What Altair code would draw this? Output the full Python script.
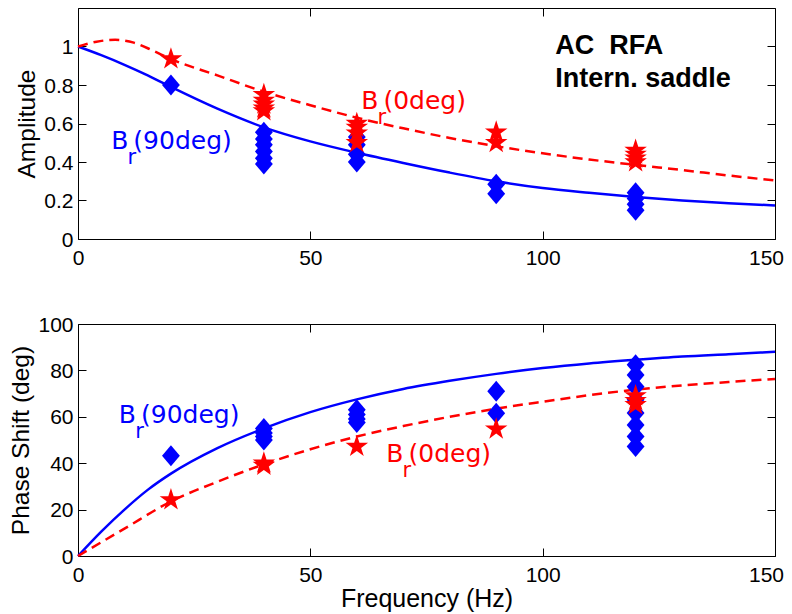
import math
import altair as alt
import pandas as pd

# ---------------- data ----------------
X_TICKS = [0, 50, 100, 150]
AMP_TICKS = [0, 0.2, 0.4, 0.6, 0.8, 1.0]
PH_TICKS = [0, 20, 40, 60, 80, 100]

# Amplitude, fitted curves
amp90_fit_f = [0, 5, 10, 15, 20, 30, 40, 50, 60, 70, 80, 90, 100, 110, 120, 130, 140, 150]
amp90_fit_v = [1.0, 0.955, 0.905, 0.85, 0.79, 0.677, 0.58, 0.507, 0.448, 0.395, 0.345, 0.30,
               0.265, 0.24, 0.218, 0.2, 0.186, 0.174]
amp0_fit_f = [0, 4, 8, 12, 16, 20, 30, 40, 50, 60, 70, 80, 90, 100, 110, 120, 130, 140, 150]
amp0_fit_v = [1.0, 1.025, 1.035, 1.02, 0.98, 0.935, 0.85, 0.765, 0.695, 0.63, 0.575, 0.525,
              0.482, 0.445, 0.413, 0.385, 0.358, 0.33, 0.304]

# Amplitude, measured points
amp90_pts_f = [20, 40, 40, 40, 40, 40, 40, 60, 60, 60, 60, 90, 90, 120, 120, 120, 120]
amp90_pts_v = [0.80, 0.555, 0.52, 0.49, 0.455, 0.42, 0.39, 0.53, 0.49, 0.44, 0.40,
               0.285, 0.235, 0.24, 0.21, 0.18, 0.15]
amp0_pts_f = [20, 40, 40, 40, 40, 40, 60, 60, 60, 60, 90, 90, 120, 120, 120, 120]
amp0_pts_v = [0.935, 0.75, 0.72, 0.70, 0.68, 0.665, 0.60, 0.58, 0.55, 0.50,
              0.555, 0.50, 0.46, 0.44, 0.42, 0.40]

# Phase shift, fitted curves
ph90_fit_f = [0, 5, 10, 15, 20, 30, 40, 50, 60, 70, 80, 90, 100, 110, 120, 130, 140, 150]
ph90_fit_v = [0, 10.5, 20, 28.5, 35.5, 46.5, 55, 62, 67.5, 72, 75.5, 78.5, 81, 83, 84.6, 86, 87, 88]
ph0_fit_f = [0, 10, 20, 30, 40, 50, 60, 70, 80, 90, 100, 110, 120, 130, 140, 150]
ph0_fit_v = [0, 11.8, 23.5, 32, 39.5, 46, 51.5, 56, 60, 63.5, 66.5, 69.3, 71.7, 73.5, 75, 76.3]

# Phase shift, measured points
ph90_pts_f = [20, 40, 40, 40, 40, 60, 60, 60, 60, 90, 90,
              120, 120, 120, 120, 120, 120, 120, 120]
ph90_pts_v = [43.2, 55, 53, 51.5, 50, 63, 61, 59, 57.5, 71, 61.5,
              82.4, 78, 73, 67.3, 61.6, 56.5, 51.5, 47.2]
ph0_pts_f = [20, 40, 40, 60, 90, 120, 120, 120]
ph0_pts_v = [24.2, 40, 39, 47.2, 54.7, 69, 67, 65.2]

# Annotations (text, anchor frequency, anchor value)
LBL_HEAD = "B"
LBL_SUB = "r"
LBL_90 = "(90deg)"
LBL_0 = "(0deg)"
amp_lbl90 = (7.13, 0.468)
amp_lbl0 = (60.96, 0.676)
ph_lbl90 = (8.79, 57.3)
ph_lbl0 = (66.35, 40.7)
info_lines = ["AC\u00a0 RFA", "Intern. saddle"]
info_f = [102.7, 102.7]
info_v = [0.961, 0.791]

# ---------------- styling ----------------
BLUE = "#0000ff"
RED = "#ff0000"
FONT = "Liberation Sans"
LBL_FONT = "DejaVu Sans"
W = 697


def star_path(inner=0.382):
    pts = []
    for k in range(10):
        r = 1.0 if k % 2 == 0 else inner
        a = math.pi / 2 + k * math.pi / 5
        pts.append((r * math.cos(a), -r * math.sin(a)))
    return "M" + "L".join(f"{x:.4f},{y:.4f}" for x, y in pts) + "Z"


STAR = star_path()
DIAMOND = "M0,-1L0.85,0L0,1L-0.85,0Z"


def df(f, v):
    return pd.DataFrame({"f": f, "v": v})


def panel(fit90, fit0, pts90, pts0, lbl90, lbl0, ymax, yticks, yfmt, ytitle, xtitle, height,
          info=False):
    xs = alt.Scale(domain=[0, 150], nice=False, zero=False)
    ys = alt.Scale(domain=[0, ymax], nice=False, zero=False)
    common = dict(tickSize=8, offset=-8, domain=False, grid=False,
                  tickColor="black", tickWidth=1, minExtent=0)
    x_main = alt.Axis(values=X_TICKS, format="d", title=xtitle, labelPadding=8, labelFontSize=21,
                      labelFont=FONT, labelColor="black", labelFlush=False, labelOverlap=False,
                      labelOffset={"condition": {"test": "datum.value === 150", "value": -9},
                                   "value": 0},
                      titleFont=FONT, titleFontSize=25, titleFontWeight="normal",
                      titleColor="black", titlePadding=1, **common)
    y_main = alt.Axis(values=yticks, format=yfmt, title=ytitle, labelPadding=5,
                      labelFontSize=21, labelFont=FONT, labelColor="black", labelOffset=1,
                      labelFlush=False, labelOverlap=False,
                      titleFont=FONT, titleFontSize=24.5, titleFontWeight="normal",
                      titleColor="black", titlePadding=4, **common)
    x_top = alt.Axis(orient="top", values=X_TICKS, labels=False, title=None, maxExtent=0, **common)
    y_right = alt.Axis(orient="right", values=yticks, labels=False, title=None, maxExtent=0,
                       **common)

    def enc(ch, xa=None, ya=None):
        return ch.encode(
            x=alt.X("f:Q", scale=xs, axis=xa),
            y=alt.Y("v:Q", scale=ys, axis=ya),
        )

    blue_line = enc(alt.Chart(df(*fit90)).mark_line(color=BLUE, strokeWidth=2.5,
                                                    interpolate="monotone"), x_main, y_main)
    red_line = enc(alt.Chart(df(*fit0)).mark_line(color=RED, strokeWidth=2.5, strokeDash=[10, 6],
                                                  interpolate="monotone"), x_top, y_right)
    dia = enc(alt.Chart(df(*pts90)).mark_point(shape=DIAMOND, filled=True, size=441,
                                               color=BLUE, opacity=1))
    stars = enc(alt.Chart(df(*pts0)).mark_point(shape=STAR, filled=True, size=560,
                                                color=RED, opacity=1))

    layers = [blue_line, red_line, dia, stars]

    def sub_label(pos, tail, color):
        base = alt.Chart(df([pos[0]], [pos[1]]))
        t1 = enc(base.mark_text(text=LBL_HEAD, align="left", baseline="alphabetic",
                                font=LBL_FONT, fontSize=25, color=color))
        t2 = enc(base.mark_text(text=LBL_SUB, align="left", baseline="alphabetic",
                                font=LBL_FONT, fontSize=21, color=color, dx=16.3, dy=15))
        t3 = enc(base.mark_text(text=tail, align="left", baseline="alphabetic",
                                font=LBL_FONT, fontSize=25, color=color, dx=22.2))
        return [t1, t2, t3]

    layers += sub_label(lbl90, LBL_90, BLUE)
    layers += sub_label(lbl0, LBL_0, RED)

    if info:
        info_df = pd.DataFrame({"f": info_f, "v": info_v, "t": info_lines})
        layers.append(enc(alt.Chart(info_df).mark_text(align="left", baseline="alphabetic",
                                                       font=FONT, fontSize=27, fontWeight="bold",
                                                       color="black")).encode(text="t:N"))

    return alt.layer(*layers).resolve_axis(x="independent", y="independent").properties(
        width=W, height=height)


top = panel((amp90_fit_f, amp90_fit_v), (amp0_fit_f, amp0_fit_v),
            (amp90_pts_f, amp90_pts_v), (amp0_pts_f, amp0_pts_v),
            amp_lbl90, amp_lbl0, 1.2, AMP_TICKS, ".1~f", "Amplitude", None, 231, info=True)
bottom = panel((ph90_fit_f, ph90_fit_v), (ph0_fit_f, ph0_fit_v),
               (ph90_pts_f, ph90_pts_v), (ph0_pts_f, ph0_pts_v),
               ph_lbl90, ph_lbl0, 100, PH_TICKS, "d", "Phase Shift (deg)", "Frequency (Hz)", 232)

chart = alt.vconcat(top, bottom, spacing=44).properties(
    padding={"left": 0, "top": -1, "right": -1, "bottom": 0}
).configure_view(stroke="black", strokeWidth=1)

chart.save("out.html", embed_options={"renderer": "svg", "actions": False})
